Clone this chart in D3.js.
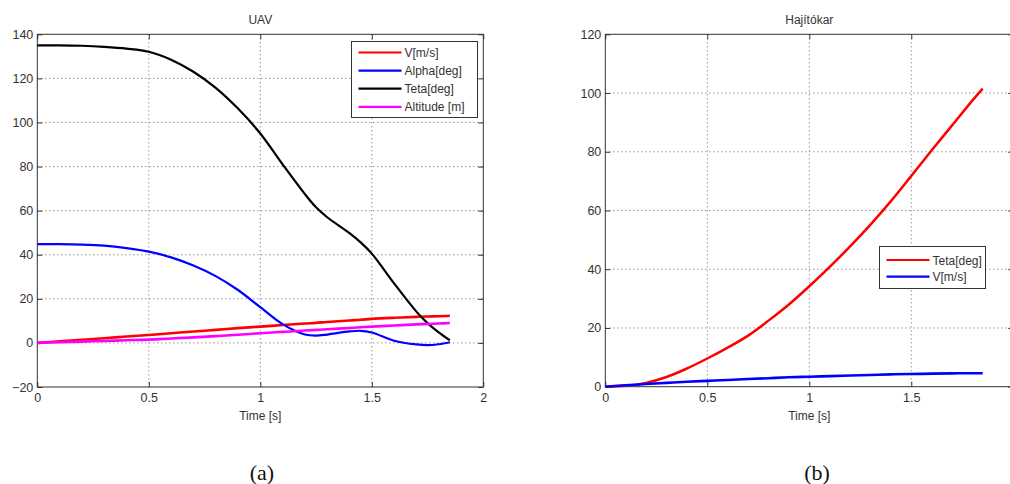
<!DOCTYPE html>
<html>
<head>
<meta charset="utf-8">
<script src="https://cdn.jsdelivr.net/npm/d3@7"></script>
<style>
  body { margin: 0; background: #fff; }
  svg { display: block; }
  .tick text { font-family: Arial, "Liberation Sans", sans-serif; font-size: 12.5px; fill: #333; }
  .lbl { font-family: Arial, "Liberation Sans", sans-serif; font-size: 12px; fill: #333; }
  .cap { font-family: "Times New Roman", "Liberation Serif", serif; font-size: 22px; fill: #111; }
</style>
</head>
<body>
<div id="graph"></div>
<script>
const width = 1010;
const height = 484;

// (a) UAV
const uavTime = [0, 0.1, 0.2, 0.3, 0.4, 0.5, 0.6, 0.7, 0.8, 0.9, 1.0, 1.1, 1.2, 1.25, 1.3, 1.4, 1.45, 1.5, 1.6, 1.7, 1.75, 1.8, 1.85];
const uavV     = [0, 0.7, 1.4, 2.1, 2.9, 3.6, 4.4, 5.2, 5.9, 6.7, 7.4, 8.1, 8.8, 9.1, 9.5, 10.2, 10.5, 10.9, 11.4, 11.8, 12.0, 12.1, 12.3];
const uavAlpha = [44.8, 44.8, 44.6, 44.1, 43, 41.4, 38.8, 35.1, 30.3, 24.0, 16.2, 8.5, 3.8, 3.3, 3.8, 5.2, 5.5, 4.7, 1.0, -0.7, -1.0, -0.6, 0.3];
const uavTeta  = [135, 135, 134.8, 134.3, 133.5, 132.1, 128.5, 123, 115.7, 106.3, 95, 81, 67.5, 61.5, 57, 49.8, 45.6, 40.5, 27, 14.2, 9, 4.8, 1.2];
const uavAlt   = [0, 0.3, 0.6, 0.9, 1.2, 1.5, 2.0, 2.5, 3.1, 3.7, 4.4, 5.0, 5.6, 5.9, 6.2, 6.8, 7.1, 7.4, 7.9, 8.4, 8.6, 8.8, 9.0];
const uavNames = ["V[m/s]", "Alpha[deg]", "Teta[deg]", "Altitude [m]"];
const uavXTicks = [0, 0.5, 1, 1.5, 2];
const uavYTicks = [-20, 0, 20, 40, 60, 80, 100, 120, 140];

// (b) Hajítókar
const karTime = [0, 0.1, 0.2, 0.3, 0.4, 0.5, 0.6, 0.7, 0.8, 0.9, 1.0, 1.1, 1.2, 1.3, 1.4, 1.5, 1.6, 1.7, 1.8, 1.85];
const karTeta = [0, 0.3, 1.3, 3.3, 6.2, 9.6, 13.3, 17.4, 22.5, 28, 34.2, 40.8, 47.8, 55.2, 63.2, 71.8, 80.5, 89, 97.5, 101.5];
const karV    = [0, 0.5, 0.9, 1.3, 1.7, 2.0, 2.3, 2.6, 2.9, 3.2, 3.4, 3.6, 3.8, 4.0, 4.2, 4.3, 4.45, 4.55, 4.6, 4.6];
const karNames = ["Teta[deg]", "V[m/s]"];
const karXTicks = [0, 0.5, 1, 1.5];
const karYTicks = [0, 20, 40, 60, 80, 100, 120];

const RED = "#FF0000";
const BLUE = "#0000FF";
const BLACK = "#000000";
const MAGENTA = "#FF00FF";

const svg = d3.select("#graph").append("svg")
  .attr("width", width).attr("height", height)
  .style("background-color", "#FFFFFF");

function panel(o) {
  const x = d3.scaleLinear().domain([0, 2]).range([o.left, o.right]);
  const y = d3.scaleLinear().domain(o.yDomain).range([o.bottom, o.top]);
  const g = svg.append("g");
  const inner = (dom) => (d) => d > dom[0] && d < dom[1];

  // grid
  g.append("g").selectAll("line").data(o.xTicks.filter(inner(x.domain()))).join("line")
    .attr("x1", d => x(d)).attr("x2", d => x(d)).attr("y1", o.top).attr("y2", o.bottom)
    .attr("stroke", "#666").attr("stroke-width", 1).attr("stroke-dasharray", "1,3");
  g.append("g").selectAll("line").data(o.yTicks.filter(inner(y.domain()))).join("line")
    .attr("x1", o.left).attr("x2", o.right).attr("y1", d => y(d)).attr("y2", d => y(d))
    .attr("stroke", "#666").attr("stroke-width", 1).attr("stroke-dasharray", "1,3");

  // axes with inner ticks
  const ax = (sel) => sel.select(".domain").remove();
  g.append("g").attr("transform", `translate(0,${o.bottom})`)
    .call(d3.axisBottom(x).tickValues(o.xTicks).tickSize(-5).tickPadding(6).tickFormat(d3.format("")))
    .call(ax);
  g.append("g").attr("transform", `translate(0,${o.top})`)
    .call(d3.axisTop(x).tickValues(o.xTicks).tickSize(-5).tickFormat(""))
    .call(ax);
  g.append("g").attr("transform", `translate(${o.left},0)`)
    .call(d3.axisLeft(y).tickValues(o.yTicks).tickSize(-5).tickPadding(4))
    .call(ax);
  g.append("g").attr("transform", `translate(${o.right},0)`)
    .call(d3.axisRight(y).tickValues(o.yTicks).tickSize(-5).tickFormat(""))
    .call(ax);
  g.selectAll(".tick line").attr("stroke", "#333");

  g.append("rect").attr("x", o.left).attr("y", o.top)
    .attr("width", o.right - o.left).attr("height", o.bottom - o.top)
    .attr("fill", "none").attr("stroke", "#333").attr("stroke-width", 1);

  // series
  const line = d3.line().x(d => x(d[0])).y(d => y(d[1])).curve(d3.curveCatmullRom);
  o.series.forEach(s => {
    g.append("path").datum(o.time.map((t, i) => [t, s.values[i]]))
      .attr("fill", "none").attr("stroke", s.color).attr("stroke-width", s.w || 2.2)
      .attr("d", line);
  });

  // title, axis label, caption
  const cx = (o.left + o.right) / 2;
  g.append("text").attr("class", "lbl").attr("x", cx).attr("y", 24).attr("text-anchor", "middle").text(o.title);
  g.append("text").attr("class", "lbl").attr("x", cx).attr("y", 420).attr("text-anchor", "middle").text("Time [s]");
  g.append("text").attr("class", "cap").attr("x", o.capX).attr("y", 480).attr("text-anchor", "middle").text(o.caption);

  // legend
  const L = o.legend;
  const lg = g.append("g");
  lg.append("rect").attr("x", L.x).attr("y", L.y).attr("width", L.w).attr("height", L.h)
    .attr("fill", "#fff").attr("stroke", "#333").attr("stroke-width", 1);
  o.series.forEach((s, i) => {
    const ly = L.y + L.first + i * L.step;
    lg.append("line").attr("x1", L.x + 7).attr("x2", L.x + 50).attr("y1", ly).attr("y2", ly)
      .attr("stroke", s.color).attr("stroke-width", 2.2);
    lg.append("text").attr("class", "lbl").attr("x", L.x + 53).attr("y", ly + 4.5).text(s.name);
  });
}

panel({
  left: 37.3, right: 483.3, top: 34.3, bottom: 387,
  yDomain: [-20, 140], xTicks: uavXTicks, yTicks: uavYTicks,
  time: uavTime,
  series: [
    { name: uavNames[0], values: uavV, color: RED, w: 2.6 },
    { name: uavNames[1], values: uavAlpha, color: BLUE },
    { name: uavNames[2], values: uavTeta, color: BLACK },
    { name: uavNames[3], values: uavAlt, color: MAGENTA, w: 2.6 }
  ],
  title: "UAV", caption: "(a)", capX: 262,
  legend: { x: 351.5, y: 41.5, w: 126, h: 76, first: 11, step: 18.1 }
});

panel({
  left: 605.3, right: 1013.3, top: 34.3, bottom: 386.7,
  yDomain: [0, 120], xTicks: karXTicks, yTicks: karYTicks,
  time: karTime,
  series: [
    { name: karNames[0], values: karTeta, color: RED, w: 2.5 },
    { name: karNames[1], values: karV, color: BLUE, w: 2.6 }
  ],
  title: "Hajítókar", caption: "(b)", capX: 817,
  legend: { x: 879.5, y: 246.5, w: 106, h: 42, first: 13.5, step: 16.7 }
});
</script>
</body>
</html>
